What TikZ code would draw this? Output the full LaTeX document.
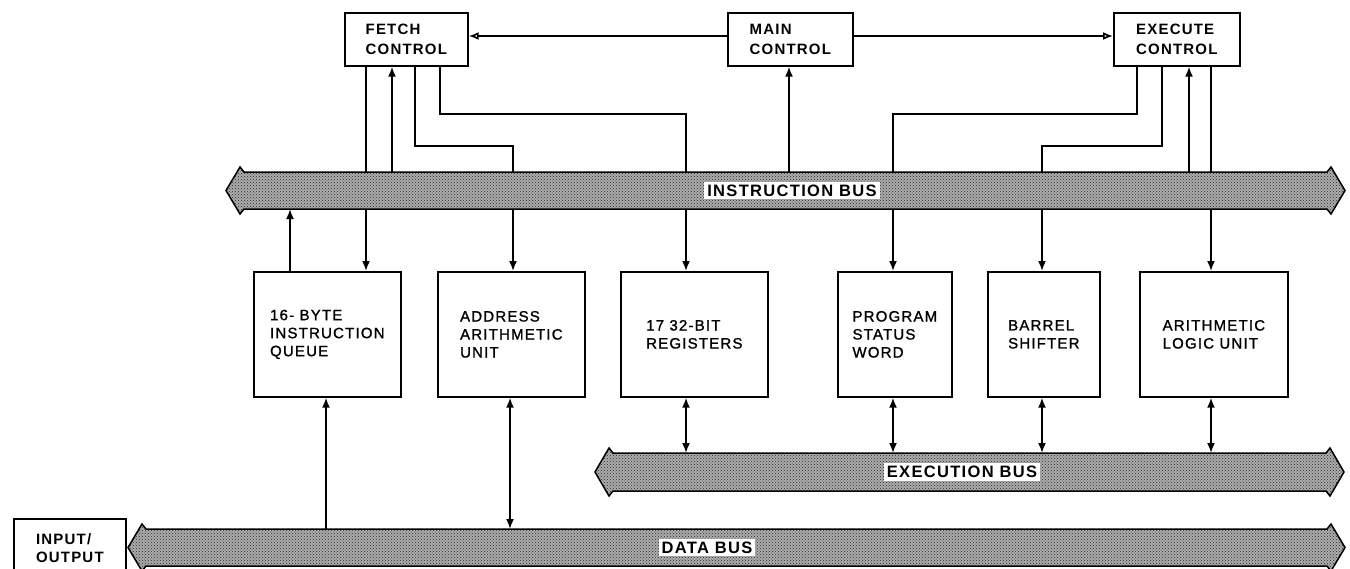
\documentclass[tikz,border=0pt]{standalone}
\usepackage{fontspec}
\setmainfont{Liberation Sans}
\newfontfamily\spaced[LetterSpace=8]{Liberation Sans}
\newfontfamily\spacedmed[LetterSpace=8,FakeBold=1.2]{Liberation Sans}
\usetikzlibrary{arrows.meta,patterns}
\newcommand\drawbus[4]{% left tip, right tip, top, bottom
  \draw[bus] (#1,{(#3+#4)/2}) -- (#1+14,#3-5) -- (#1+18,#3) -- (#2-18,#3) -- (#2-14,#3-5) -- (#2,{(#3+#4)/2})
   -- (#2-14,#4+5) -- (#2-18,#4) -- (#1+18,#4) -- (#1+14,#4+5) -- cycle;}
\begin{document}
\begin{tikzpicture}[x=1pt,y=-1pt,
  box/.style={draw,line width=1.7pt,align=left,inner sep=0pt,anchor=north west,fill=white,
    font=\spacedmed\fontsize{15}{18}\selectfont},
  ctrl/.style={box,font=\spaced\bfseries\fontsize{15}{20}\selectfont,minimum height=53},
  mid/.style={box,minimum height=125},
  wire/.style={line width=1.7pt},
  arr/.style={wire,-{Latex[length=10pt,width=8pt]}},
  darr/.style={wire,{Latex[length=10pt,width=8pt]}-{Latex[length=10pt,width=8pt]}},
  oarr/.style={wire,-{Latex[open,length=10pt,width=8pt]}},
  bus/.style={draw,line width=1.5pt,preaction={fill=black!32},pattern=crosshatch dots,pattern color=black!85},
  buslab/.style={fill=white,inner sep=3pt,font=\spaced\bfseries\fontsize{16.5}{18}\selectfont}]
\useasboundingbox (0,0) rectangle (1350,568);

% control boxes
\node[ctrl,minimum width=123] (fetch) at (344,12) {FETCH\\CONTROL};
\node[ctrl,minimum width=125] (main) at (727,12) {MAIN\\CONTROL};
\node[ctrl,minimum width=126] (exec) at (1113,12) {EXECUTE\\CONTROL};

% functional units
\node[mid,minimum width=147] (queue) at (253,271) {16- BYTE\\INSTRUCTION\\QUEUE};
\node[mid,minimum width=147] (addr) at (437,271) {ADDRESS\\ARITHMETIC\\UNIT};
\node[mid,minimum width=147] (regs) at (620,271) {17 32-BIT\\REGISTERS};
\node[mid,minimum width=114] (psw) at (837,271) {PROGRAM\\STATUS\\WORD};
\node[mid,minimum width=112] (barrel) at (987,271) {BARREL\\SHIFTER};
\node[mid,minimum width=148] (alu) at (1139,271) {ARITHMETIC\\LOGIC UNIT};
\node[box,font=\spaced\bfseries\fontsize{15}{18}\selectfont,minimum width=112,minimum height=58] (io) at (13,518) {INPUT/\\OUTPUT};

% helper coordinates
\foreach \c in {290,326,366,392,415,440,510,513,686,789,893,1042,1137,1162,1189,1211}
  \coordinate (c\c) at (\c,0);
\coordinate (r36) at (0,36);
\coordinate (r114) at (0,114);
\coordinate (r146) at (0,146);
\coordinate (ibtop) at (0,172);
\coordinate (ibbot) at (0,209);
\coordinate (ebtop) at (0,453);
\coordinate (dbtop) at (0,529);

% control connections
\draw[oarr] (main.west |- r36) -- (fetch.east |- r36);
\draw[oarr] (main.east |- r36) -- (exec.west |- r36);
\draw[arr] (fetch.south -| c366) -- (queue.north -| c366);
\draw[arr] (c392 |- ibtop) -- (fetch.south -| c392);
\draw[arr] (fetch.south -| c415) -- (c415 |- r146) -- (c513 |- r146) -- (addr.north -| c513);
\draw[arr] (fetch.south -| c440) -- (c440 |- r114) -- (c686 |- r114) -- (regs.north -| c686);
\draw[arr] (queue.north -| c290) -- (c290 |- ibbot);
\draw[arr] (c789 |- ibtop) -- (main.south -| c789);
\draw[arr] (exec.south -| c1137) -- (c1137 |- r114) -- (c893 |- r114) -- (psw.north -| c893);
\draw[arr] (exec.south -| c1162) -- (c1162 |- r146) -- (c1042 |- r146) -- (barrel.north -| c1042);
\draw[arr] (c1189 |- ibtop) -- (exec.south -| c1189);
\draw[arr] (exec.south -| c1211) -- (alu.north -| c1211);

% execution bus links
\draw[darr] (regs.south -| c686) -- (c686 |- ebtop);
\draw[darr] (psw.south -| c893) -- (c893 |- ebtop);
\draw[darr] (barrel.south -| c1042) -- (c1042 |- ebtop);
\draw[darr] (alu.south -| c1211) -- (c1211 |- ebtop);

% data bus links
\draw[arr] (c326 |- dbtop) -- (queue.south -| c326);
\draw[darr] (addr.south -| c510) -- (c510 |- dbtop);

% buses
\drawbus{226}{1345}{172}{209}
\drawbus{595}{1344}{453}{491}
\drawbus{128}{1345}{529}{566}

\node[buslab] (ibl) at (792,190.5) {INSTRUCTION BUS};
\node[buslab] (ebl) at (962,472) {EXECUTION BUS};
\node[buslab] (dbl) at (707,547.5) {DATA BUS};
\end{tikzpicture}
\end{document}
